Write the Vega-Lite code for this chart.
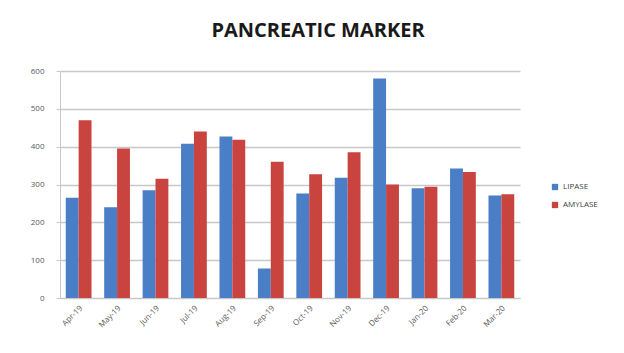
{
  "$schema": "https://vega.github.io/schema/vega-lite/v6.json",
  "width": 460,
  "height": 227,
  "autosize": {"type": "none"},
  "padding": {"left": 60, "top": 71, "right": 104, "bottom": 55},
  "background": "white",
  "title": {
    "text": "PANCREATIC MARKER",
    "font": "Open Sans",
    "fontSize": 20,
    "fontWeight": "bold",
    "color": "#1a1a1a",
    "anchor": "middle",
    "dx": 28,
    "offset": 26
  },
  "data": {
    "values": [
      {"month": "Apr-19", "marker": "LIPASE", "value": 265},
      {"month": "Apr-19", "marker": "AMYLASE", "value": 470},
      {"month": "May-19", "marker": "LIPASE", "value": 240},
      {"month": "May-19", "marker": "AMYLASE", "value": 395},
      {"month": "Jun-19", "marker": "LIPASE", "value": 285},
      {"month": "Jun-19", "marker": "AMYLASE", "value": 315},
      {"month": "Jul-19", "marker": "LIPASE", "value": 408},
      {"month": "Jul-19", "marker": "AMYLASE", "value": 440},
      {"month": "Aug-19", "marker": "LIPASE", "value": 427},
      {"month": "Aug-19", "marker": "AMYLASE", "value": 418},
      {"month": "Sep-19", "marker": "LIPASE", "value": 78},
      {"month": "Sep-19", "marker": "AMYLASE", "value": 360},
      {"month": "Oct-19", "marker": "LIPASE", "value": 276},
      {"month": "Oct-19", "marker": "AMYLASE", "value": 327},
      {"month": "Nov-19", "marker": "LIPASE", "value": 318},
      {"month": "Nov-19", "marker": "AMYLASE", "value": 385},
      {"month": "Dec-19", "marker": "LIPASE", "value": 580},
      {"month": "Dec-19", "marker": "AMYLASE", "value": 300},
      {"month": "Jan-20", "marker": "LIPASE", "value": 290},
      {"month": "Jan-20", "marker": "AMYLASE", "value": 294},
      {"month": "Feb-20", "marker": "LIPASE", "value": 342},
      {"month": "Feb-20", "marker": "AMYLASE", "value": 333},
      {"month": "Mar-20", "marker": "LIPASE", "value": 271},
      {"month": "Mar-20", "marker": "AMYLASE", "value": 274}
    ]
  },
  "mark": {"type": "bar"},
  "encoding": {
    "x": {
      "field": "month",
      "type": "ordinal",
      "sort": null,
      "scale": {"paddingInner": 0.33, "paddingOuter": 0.15},
      "axis": {
        "title": null,
        "labelAngle": -45,
        "labelFont": "Open Sans",
        "labelFontSize": 8,
        "labelColor": "#595959",
        "domainColor": "#c8c8c8",
        "ticks": false,
        "labelPadding": 6
      }
    },
    "xOffset": {"field": "marker", "type": "nominal", "sort": ["LIPASE", "AMYLASE"]},
    "y": {
      "field": "value",
      "type": "quantitative",
      "scale": {"domain": [0, 600]},
      "axis": {
        "title": null,
        "values": [0, 100, 200, 300, 400, 500, 600],
        "labelFont": "Open Sans",
        "labelFontSize": 8,
        "labelColor": "#595959",
        "gridColor": "#c8c8c8",
        "gridWidth": 1.5,
        "domainColor": "#c8c8c8",
        "tickColor": "#c8c8c8",
        "tickSize": 4,
        "labelPadding": 12
      }
    },
    "color": {
      "field": "marker",
      "type": "nominal",
      "sort": ["LIPASE", "AMYLASE"],
      "scale": {"domain": ["LIPASE", "AMYLASE"], "range": ["#4a7ec6", "#c9443f"]},
      "legend": {
        "title": null,
        "orient": "none",
        "legendX": 491,
        "legendY": 112,
        "symbolType": "square",
        "symbolSize": 40,
        "symbolStrokeWidth": 0,
        "labelFont": "Open Sans",
        "labelFontSize": 8,
        "labelColor": "#404040",
        "rowPadding": 10
      }
    }
  },
  "config": {"view": {"stroke": null}}
}
